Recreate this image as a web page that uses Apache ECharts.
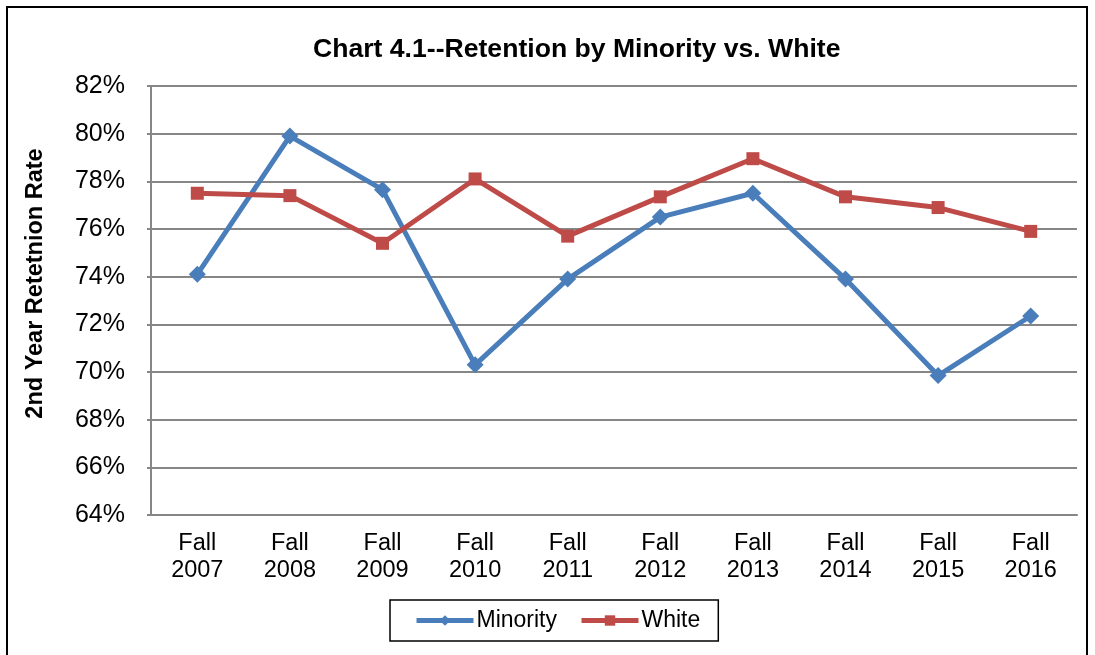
<!DOCTYPE html>
<html>
<head>
<meta charset="utf-8">
<script src="https://cdn.jsdelivr.net/npm/echarts@6/dist/echarts.min.js"></script>
<style>
html, body { margin: 0; padding: 0; background: #fff; }
#chart { width: 1095px; height: 655px; }
</style>
</head>
<body>
<div id="chart"></div>
<script>
var categories = ['Fall\n2007', 'Fall\n2008', 'Fall\n2009', 'Fall\n2010', 'Fall\n2011',
	'Fall\n2012', 'Fall\n2013', 'Fall\n2014', 'Fall\n2015', 'Fall\n2016'];
var minority = [74.1, 79.9, 77.65, 70.3, 73.9, 76.5, 77.5, 73.9, 69.85, 72.35];
var white = [77.5, 77.4, 75.4, 78.1, 75.7, 77.35, 78.95, 77.35, 76.9, 75.9];

var font = 'Liberation Sans';
var chart = echarts.init(document.getElementById('chart'));

chart.setOption({
	animation: false,
	textStyle: { fontFamily: font, color: '#000' },
	graphic: [{
		type: 'rect',
		shape: { x: 7, y: 7, width: 1080, height: 660 },
		style: { fill: 'none', stroke: '#000', lineWidth: 2 },
		silent: true
	}],
	title: {
		text: 'Chart 4.1--Retention by Minority vs. White',
		left: 308,
		top: 31,
		textStyle: { fontFamily: font, fontSize: 26.6, fontWeight: 'bold', color: '#000' }
	},
	grid: { left: 151, top: 86, right: 18, bottom: 140 },
	xAxis: {
		type: 'category',
		data: categories,
		axisLine: { lineStyle: { color: '#868686', width: 2 } },
		axisTick: { show: false },
		axisLabel: { color: '#000', fontFamily: font, fontSize: 23.5, lineHeight: 27, margin: 15 }
	},
	yAxis: {
		type: 'value',
		min: 64,
		max: 82,
		interval: 2,
		name: '2nd Year Retetnion Rate',
		nameLocation: 'middle',
		nameGap: 103,
		nameTextStyle: {
			fontFamily: font, fontSize: 23.5, fontWeight: 'bold', color: '#000',
			padding: [0, 0, 0, 34]
		},
		axisLine: { show: true, lineStyle: { color: '#868686', width: 2 } },
		axisTick: { show: true, length: 4, lineStyle: { color: '#868686', width: 2 } },
		splitLine: { lineStyle: { color: '#868686', width: 2 } },
		axisLabel: {
			color: '#000', fontFamily: font, fontSize: 25, margin: 26,
			formatter: function (v) { return v + '%'; }
		}
	},
	legend: {
		data: ['Minority', 'White'],
		left: 390,
		top: 600,
		padding: [9, 18, 9, 24],
		itemGap: 22,
		itemWidth: 57,
		itemHeight: 13,
		borderColor: '#000',
		borderWidth: 1.5,
		lineStyle: { width: 5 },
		textStyle: { fontFamily: font, fontSize: 23, color: '#000', padding: [0, 0, 0, -2] }
	},
	series: [{
		name: 'Minority',
		type: 'line',
		data: minority,
		symbol: 'diamond',
		symbolSize: 17,
		lineStyle: { color: '#4a7ebb', width: 5 },
		itemStyle: { color: '#4a7ebb' }
	}, {
		name: 'White',
		type: 'line',
		data: white,
		symbol: 'rect',
		symbolSize: 13,
		lineStyle: { color: '#be4b48', width: 5 },
		itemStyle: { color: '#be4b48' }
	}]
});
</script>
</body>
</html>
